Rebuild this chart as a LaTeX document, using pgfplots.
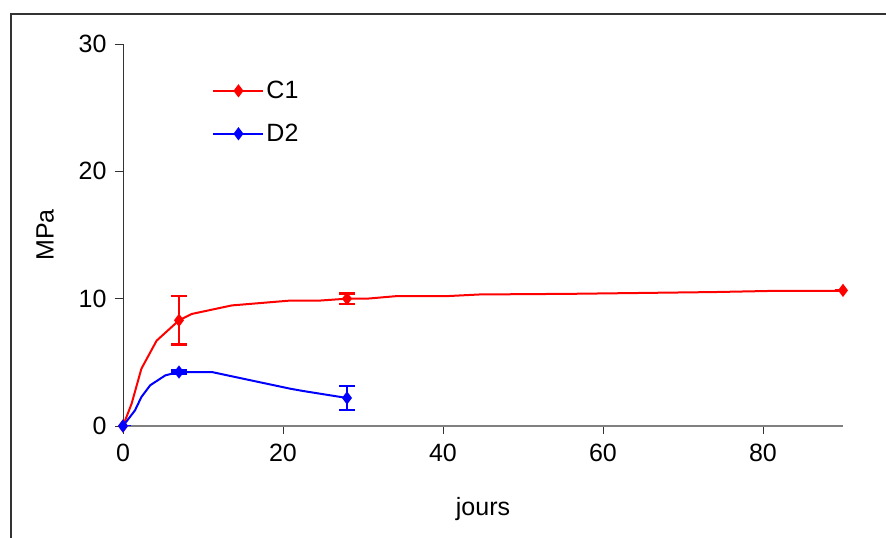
\documentclass[border=0pt]{standalone}
\usepackage{fontspec}
\setmainfont{Liberation Sans}
\usepackage{pgfplots}
\pgfplotsset{compat=1.18}
\newcommand{\bigf}{\fontsize{25bp}{29bp}\selectfont}
\begin{document}
\begin{tikzpicture}
\useasboundingbox (0,0) rectangle (886bp,538bp);
\clip (0,0) rectangle (886bp,538bp);
\draw[line width=2bp, color=black!80] (10.5bp,524bp) rectangle (950bp,-50bp);
\begin{axis}[
  at={(123bp,112bp)}, anchor=south west,
  scale only axis, width=720bp, height=382bp,
  xmin=0, xmax=90, ymin=0, ymax=30,
  axis lines*=left,
  x axis line style={draw=gray, line width=1.3bp},
  y axis line style={draw=black!80, line width=0.8bp},
  tick align=outside,
  major tick length=8bp,
  tick style={draw=black!80, line width=0.8bp},
  xtick={0,20,40,60,80}, ytick={0,10,20,30},
  /pgf/number format/assume math mode=true,
  ticklabel style={font=\bigf},
  yticklabel style={xshift=-5bp},
  xticklabel style={yshift=-7bp},
  xlabel={jours}, ylabel={MPa},
  every axis x label/.style={at={(axis description cs:0.5,-0.218)}, anchor=center, font=\bigf},
  every axis y label/.style={at={(axis description cs:-0.108,0.5)}, anchor=center, rotate=90, font=\bigf},
  legend style={draw=none, fill=none, font=\bigf, at={(axis description cs:0.124,0.908)}, anchor=north west,
    row sep=20bp, inner sep=0pt, cells={anchor=west}},
  legend image code/.code={\draw[mark repeat=2, mark phase=2, #1, sharp plot] plot coordinates {(0bp,0bp) (25bp,0bp) (50bp,0bp)};},
]
% smooth curves
\addplot[red, line width=2bp, no marks, forget plot] coordinates {
(0,0) (1.08,1.76) (2.3,4.5) (4.2,6.7) (7,8.3) (8.6,8.8) (13.6,9.47) (20.9,9.85) (24.6,9.85) (28,10.0) (30.5,10.0) (34.2,10.2) (40.5,10.2) (44.6,10.33) (56,10.38) (65,10.45) (74,10.52) (82,10.62) (90,10.62)};
\addplot[blue, line width=2bp, no marks, forget plot] coordinates {
(0,0) (1.5,1.23) (2.3,2.28) (3.4,3.2) (5.3,3.98) (7,4.24) (11.1,4.24) (14,3.85) (20.9,2.93) (22.5,2.75) (28,2.2)};
% measured points with error bars
\addplot[red, line width=2bp, only marks, mark=diamond*, mark size=5bp,
  error bars/.cd, y dir=both, y explicit,
  error bar style={line width=2.2bp},
  error mark options={rotate=90, mark size=8bp, line width=2.2bp}]
  coordinates {(0,0) +- (0,0) (7,8.3) +- (0,1.9) (28,10.0) +- (0,0.4) (90,10.65) +- (0,0)};
\addlegendentry{C1}
\addplot[blue, line width=2bp, only marks, mark=diamond*, mark size=5bp,
  error bars/.cd, y dir=both, y explicit,
  error bar style={line width=2.2bp},
  error mark options={rotate=90, mark size=8bp, line width=2.2bp}]
  coordinates {(0,0) +- (0,0) (7,4.24) +- (0,0.12) (28,2.2) +- (0,0.95)};
\addlegendentry{D2}
\end{axis}
\end{tikzpicture}
\end{document}
